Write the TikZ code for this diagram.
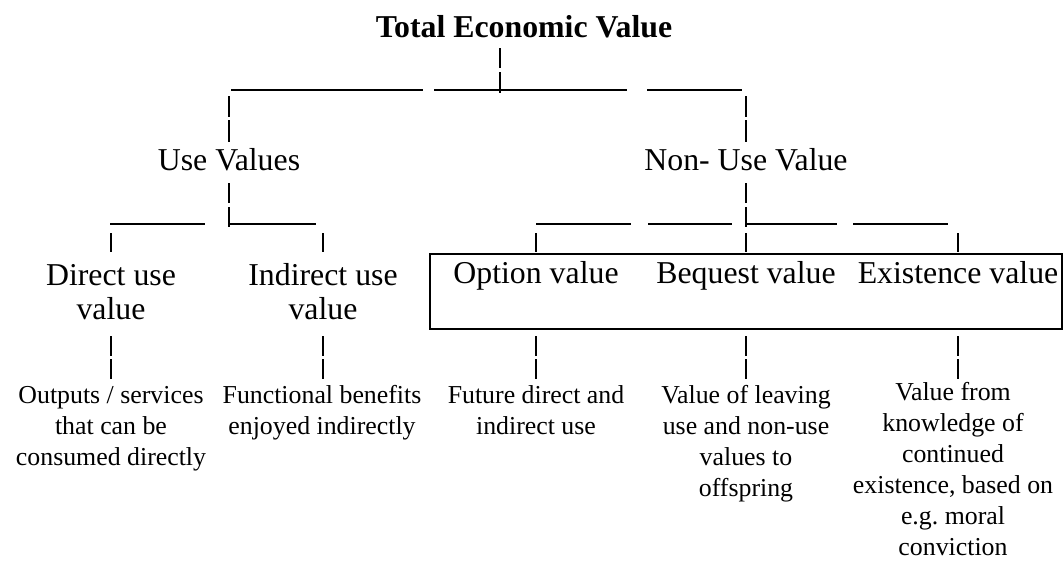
\documentclass[tikz,border=0pt]{standalone}
\usepackage{fontspec}
\setmainfont{Liberation Serif}
\frenchspacing
\begin{document}
\begin{tikzpicture}[x=0.2mm, y=0.2mm]
\tikzstyle{every node}+=[inner sep=0pt, anchor=base]
\tikzstyle{title}=[font=\fontsize{18.1}{19.3}\selectfont\bfseries]
\tikzstyle{head}=[font=\fontsize{18.1}{19.3}\selectfont, align=center]
\tikzstyle{note}=[font=\fontsize{14.7}{17.6}\selectfont, align=center]
\tikzstyle{pipe}=[black, line width=0.8pt]
\useasboundingbox (0,0) rectangle (1064,-560);
% headings (base = last line)
\draw (524,-37) node [title] (tev) {Total Economic Value};
\draw (229,-170) node [head] (use) {Use Values};
\draw (746,-170) node [head] (nuv) {Non- Use Value};
\draw (111,-319) node [head] (direct) {Direct use\\value};
\draw (323,-319) node [head] (indirect) {Indirect use\\value};
\draw (536,-283) node [head] (option) {Option value};
\draw (746,-283) node [head] (bequest) {Bequest value};
\draw (958,-283) node [head] (exist) {Existence value};
\draw [black, line width=1.2pt] (430,-254) rectangle (1062,-329);
% notes
\draw (111,-465) node [note] (outputs) {Outputs / services\\that can be\\consumed directly};
\draw (322,-434) node [note] (benefits) {Functional benefits\\enjoyed indirectly};
\draw (536,-434) node [note] (future) {Future direct and\\indirect use};
\draw (746,-496) node [note] (leaving) {Value of leaving\\use and non-use\\values to\\offspring};
\draw (953,-555) node [note] (knowledge) {Value from\\knowledge of\\continued\\existence, based on\\e.g. moral\\conviction};
% stem and first row
\coordinate (stem) at (500,-48);
\draw [pipe] (stem) -- ++(0,-20);
\draw [pipe] (stem) ++(0,-24) -- ++(0,-21);
\draw [pipe] (231,-90) -- (423,-90);
\draw [pipe] (434,-90) -- (627,-90);
\draw [pipe] (647,-90) -- (742,-90);
\foreach \n in {use,nuv} {
  \draw [pipe] (\n |- 0,-96) -- (\n |- 0,-117);
  \draw [pipe] (\n |- 0,-120) -- (\n |- 0,-142);
  \draw [pipe] (\n |- 0,-183) -- (\n |- 0,-203);
  \draw [pipe] (\n |- 0,-207) -- (\n |- 0,-227);
}
% second row
\draw [pipe] (110,-224) -- (205,-224);
\draw [pipe] (228,-224) -- (316,-224);
\draw [pipe] (536,-224) -- (631,-224);
\draw [pipe] (648,-224) -- (732,-224);
\draw [pipe] (746,-224) -- (837,-224);
\draw [pipe] (853,-224) -- (948,-224);
\foreach \n in {direct,indirect,option,bequest,exist} {
  \draw [pipe] (\n |- 0,-233) -- (\n |- 0,-252);
  \draw [pipe] (\n |- 0,-336) -- (\n |- 0,-356);
  \draw [pipe] (\n |- 0,-359) -- (\n |- 0,-379);
}
\end{tikzpicture}
\end{document}
